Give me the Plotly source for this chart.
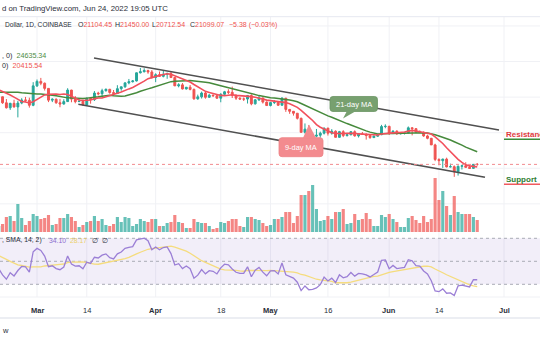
import plotly.graph_objects as go
import pandas as pd
import numpy as np

W, H = 540, 340

# ---- data -----------------------------------------------------------
# closes before the visible window (Jan 1 - Feb 18, 2022), used only to warm up indicators
warmup_close = [47690, 47290, 46430, 45830, 43430, 43090, 41550, 41730, 41870, 41830,
                42740, 43920, 42590, 43100, 43180, 43110, 42250, 42380, 41680, 40700,
                36470, 35080, 36280, 36680, 36960, 36830, 37190, 37720, 38150, 37920,
                38480, 38740, 36950, 37080, 41570, 41380, 42410, 43840, 44080, 44370,
                43530, 42380, 42230, 42080, 42550, 44570, 43880, 40540, 39980]

dates = pd.date_range("2022-02-19", "2022-06-24")

opens = [40000, 40100, 38400, 37000, 38250, 37250, 38330, 39200, 39100, 37700,
         43160, 44420, 43900, 42450, 39150, 39400, 38420, 38060, 38740, 41980,
         39440, 38730, 38820, 37800, 39670, 39280, 41140, 40950, 41800, 42200,
         41280, 41000, 42370, 42900, 44000, 44330, 44540, 46830, 47130, 47450, 47070,
         45530, 46300, 45830, 46420, 46600, 45500, 43170, 43440, 42290, 42780,
         42170, 39520, 40080, 41150, 39950, 40550, 40400, 39700, 40800, 41500,
         41360, 40480, 39700, 39450, 39450, 40430, 38110, 39240, 39740, 38600,
         37630, 38470, 38520, 37720, 39690, 36550, 36010, 35470, 34040, 30100,
         31000, 28940, 29030, 29280, 29860, 31300, 29860, 30420, 28700, 30290,
         29180, 29430, 30280, 29100, 29650, 29540, 29200, 28620, 29020, 29450, 31720,
         31790, 29800, 30450, 29700, 29860, 29910, 31370, 31130, 30200, 30110,
         29090, 28420, 26570, 22490, 22140, 22580, 20390, 20450, 19000, 20560,
         20700, 20270, 19980, 21104.45]
highs = [40450, 40150, 39450, 38400, 39250, 38950, 39700, 40050, 39850, 44200,
         44950, 45400, 44100, 42500, 39650, 39650, 39500, 39400, 42500, 42050,
         40300, 39450, 39300, 39900, 39900, 41700, 41500, 42350, 42400, 42300,
         42000, 43350, 42900, 44200, 45100, 44800, 46900, 48200, 48100, 47700, 47600,
         46700, 47200, 47450, 46900, 47200, 45500, 43900, 43950, 42800, 43400,
         42400, 40700, 41550, 41500, 40850, 40700, 40600, 41100, 41750, 42200,
         42950, 40800, 39950, 39900, 40600, 40800, 39450, 40350, 39900, 38800,
         38650, 39150, 38650, 40000, 39800, 36650, 36100, 35500, 34250, 32600,
         32150, 30050, 31050, 30300, 31400, 31300, 31000, 30650, 30500, 30700,
         29600, 30450, 30650, 29800, 30200, 29850, 29350, 29200, 29550, 32200, 32350,
         31950, 30650, 30650, 29950, 30150, 31750, 31550, 31300, 30650, 30350,
         29450, 28550, 26900, 22800, 22700, 22980, 21300, 20800, 20800, 21000,
         21700, 20850, 21200, 21450.00]
lows = [39650, 38100, 36800, 36400, 37050, 34300, 38000, 38600, 37050, 37450,
        42850, 43350, 41850, 38600, 38600, 38100, 37150, 37900, 38650, 38550,
        38250, 38650, 37600, 37550, 38150, 38900, 40500, 40150, 41550, 40950,
        40500, 40900, 41800, 42600, 43600, 44100, 44400, 46650, 46950, 46550, 45200,
        44200, 45650, 45550, 45150, 45400, 43100, 42750, 42150, 42150, 41900,
        39250, 39250, 39600, 39550, 39800, 40050, 39550, 38550, 40550, 40850,
        39750, 39200, 39300, 38900, 38200, 37700, 37900, 38900, 38200, 37600,
        37400, 38050, 37500, 37650, 35850, 35300, 34800, 33700, 30050, 29750,
        27800, 26700, 28700, 28600, 29500, 29200, 29450, 28700, 28650, 28750,
        28950, 29250, 28900, 28650, 29350, 28050, 28300, 28550, 28850, 29300, 31250,
        29350, 29600, 29400, 29500, 29500, 29900, 29250, 29900, 30050, 28850,
        28150, 26550, 22000, 20850, 20100, 20250, 20250, 17600, 17950, 19650,
        20350, 19800, 19900, 20712.54]
closes = [40100, 38400, 37000, 38250, 37250, 38330, 39200, 39100, 37700, 43160,
          44420, 43900, 42450, 39150, 39400, 38420, 38060, 38740, 41980, 39440,
          38730, 38820, 37800, 39670, 39280, 41140, 40950, 41800, 42200, 41280,
          41000, 42370, 42900, 44000, 44330, 44540, 46830, 47130, 47450, 47070, 45530,
          46300, 45830, 46420, 46600, 45500, 43170, 43440, 42290, 42780, 42170,
          39520, 40080, 41150, 39950, 40550, 40400, 39700, 40800, 41500, 41360,
          40480, 39700, 39450, 39450, 40430, 38110, 39240, 39740, 38600, 37630,
          38470, 38520, 37720, 39690, 36550, 36010, 35470, 34040, 30100, 31000,
          28940, 29030, 29280, 29860, 31300, 29860, 30420, 28700, 30290, 29180,
          29430, 30280, 29100, 29650, 29540, 29200, 28620, 29020, 29450, 31720, 31790,
          29800, 30450, 29700, 29860, 29910, 31370, 31130, 30200, 30110, 29090,
          28420, 26570, 22490, 22140, 22580, 20390, 20450, 19000, 20560, 20700,
          20270, 19980, 21110, 21099.07]
volumes = [6, 8, 15, 16, 11, 28, 14, 7, 11, 18,
           16, 13, 14, 17, 7, 8, 14, 14, 18, 15, 11, 5, 7, 10, 11, 16, 11, 13, 7, 6,
           8, 15, 10, 15, 14, 6, 8, 13, 11, 10, 13,
           13, 6, 6, 9, 10, 17, 10, 9, 4, 4, 13, 10, 9, 9, 6, 3, 4, 10, 9, 11,
           13, 13, 6, 5, 15, 15, 13, 12, 9, 6,
           7, 13, 13, 15, 20, 20, 9, 16, 37, 37, 41, 47, 23, 11, 12, 16, 13, 20, 20, 23,
           8, 9, 18, 12, 13, 19, 13, 6, 6, 17, 15,
           18, 13, 10, 5, 5, 14, 16, 12, 9, 16, 10, 13, 54, 32, 41, 26, 17, 36, 20, 18,
           18, 18, 15, 12]

upper_dates = ["2022-03-15 21:20", "2022-06-29 16:30"]
upper_prices = [50990, 30760]
lower_dates = ["2022-03-11 19:00", "2022-06-26 00:45"]
lower_prices = [37980, 17470]

tick_dates = ["2022-03-01", "2022-03-14", "2022-04-01", "2022-04-18", "2022-05-01",
              "2022-05-16", "2022-06-01", "2022-06-14", "2022-07-01"]
tick_text = ["<b>Mar</b>", "14", "<b>Apr</b>", "18", "<b>May</b>", "16", "<b>Jun</b>", "14", "<b>Jul</b>"]
price_grid = [10000, 20000, 30000, 40000, 50000, 60000]
rsi_levels = [70, 50, 30]

assert len(dates) == len(opens) == len(highs) == len(lows) == len(closes) == len(volumes)

# ---- indicators -----------------------------------------------------
allc = pd.Series(warmup_close + closes)
ma9 = allc.rolling(9).mean().values[len(warmup_close):]
ma21 = allc.rolling(21).mean().values[len(warmup_close):]

def rsi_wilder(c, n=14):
    c = np.asarray(c, float)
    d = np.diff(c)
    up = np.where(d > 0, d, 0.0)
    dn = np.where(d < 0, -d, 0.0)
    out = np.full(len(c), np.nan)
    au, ad = up[:n].mean(), dn[:n].mean()
    out[n] = 100 - 100 / (1 + au / ad)
    for i in range(n, len(d)):
        au = (au * (n - 1) + up[i]) / n
        ad = (ad * (n - 1) + dn[i]) / n
        out[i + 1] = 100 - 100 / (1 + au / ad)
    return out

rsi_all = pd.Series(rsi_wilder(allc.values))
rsi_ma_all = rsi_all.rolling(14).mean()
rsi = rsi_all.values[len(warmup_close):]
rsi_ma = rsi_ma_all.values[len(warmup_close):]

# ---- pixel geometry helpers -------------------------------------------
def X(px): return px / W
def Y(py): return 1 - py / H
def price_at(py): return 30000 + (132.7 - py) * 281.0
def rsi_at(py): return 70 - (py - 238.3) / 1.15

UP, DN = "#26a69a", "#ef5350"
vol_colors = ["rgba(38,166,154,0.70)" if c >= o else "rgba(239,83,80,0.70)" for o, c in zip(opens, closes)]

fig = go.Figure()
fig.add_trace(go.Bar(x=dates, y=volumes, marker=dict(color=vol_colors, line=dict(width=0)),
                     yaxis="y", xaxis="x", hoverinfo="skip"))
fig.add_trace(go.Scatter(x=dates, y=ma21, mode="lines", line=dict(color="#468a3c", width=1.5), yaxis="y2"))
fig.add_trace(go.Scatter(x=dates, y=ma9, mode="lines", line=dict(color="#f2505c", width=1.6), yaxis="y2"))
fig.add_trace(go.Candlestick(x=dates, open=opens, high=highs, low=lows, close=closes, yaxis="y2",
                             increasing=dict(line=dict(color=UP, width=1), fillcolor=UP),
                             decreasing=dict(line=dict(color=DN, width=1), fillcolor=DN),
                             whiskerwidth=0))
fig.add_trace(go.Scatter(x=upper_dates, y=upper_prices, mode="lines", line=dict(color="#505050", width=1.6), yaxis="y2"))
fig.add_trace(go.Scatter(x=lower_dates, y=lower_prices, mode="lines", line=dict(color="#505050", width=1.6), yaxis="y2"))
fig.add_trace(go.Scatter(x=dates, y=rsi_ma, mode="lines", line=dict(color="#f5dc7e", width=1.3), yaxis="y3"))
fig.add_trace(go.Scatter(x=dates, y=rsi, mode="lines", line=dict(color="#9b7fd6", width=1.3), yaxis="y3"))

shapes = []
for d in tick_dates:
    shapes.append(dict(type="line", xref="x", yref="paper", x0=d, x1=d, y0=Y(297), y1=Y(16.7),
                       line=dict(color="#f0f1f5", width=1), layer="below"))
for p in price_grid:
    shapes.append(dict(type="line", xref="paper", yref="y2", x0=0, x1=1, y0=p, y1=p,
                       line=dict(color="#f0f1f5", width=1), layer="below"))
shapes.append(dict(type="line", xref="paper", yref="paper", x0=0, x1=1, y0=Y(16.7), y1=Y(16.7),
                   line=dict(color="#e6e8f0", width=1), layer="below"))
shapes.append(dict(type="line", xref="paper", yref="paper", x0=0, x1=1, y0=Y(297), y1=Y(297),
                   line=dict(color="#f0f1f5", width=1), layer="below"))
shapes.append(dict(type="rect", xref="paper", yref="y3", x0=0, x1=1, y0=30, y1=70,
                   fillcolor="rgba(126,87,194,0.10)", line=dict(width=0), layer="below"))
for lv in rsi_levels:
    shapes.append(dict(type="line", xref="paper", yref="y3", x0=0, x1=1, y0=lv, y1=lv,
                       line=dict(color="#a9acb6", width=1, dash="3px,3px"), layer="below"))
shapes.append(dict(type="rect", xref="paper", yref="paper", x0=0, x1=1, y0=Y(319), y1=Y(317),
                   fillcolor="#eceef3", line=dict(width=0)))
shapes.append(dict(type="line", xref="paper", yref="y2", x0=0, x1=1, y0=closes[-1], y1=closes[-1],
                   line=dict(color="#f28a8f", width=1, dash="dot")))
shapes.append(dict(type="line", xref="paper", yref="paper", x0=X(504), x1=1, y0=Y(139.3), y1=Y(139.3),
                   line=dict(color="#3b8a3a", width=1.6)))
shapes.append(dict(type="line", xref="paper", yref="paper", x0=X(504), x1=1, y0=Y(184.3), y1=Y(184.3),
                   line=dict(color="#f05a5f", width=1.6)))

def rrect(x0, y0, x1, y1, r):
    p = lambda x, y: f"{X(x):.5f},{Y(y):.5f}"
    return (f"M {p(x0 + r, y0)} L {p(x1 - r, y0)} Q {p(x1, y0)} {p(x1, y0 + r)} "
            f"L {p(x1, y1 - r)} Q {p(x1, y1)} {p(x1 - r, y1)} L {p(x0 + r, y1)} "
            f"Q {p(x0, y1)} {p(x0, y1 - r)} L {p(x0, y0 + r)} Q {p(x0, y0)} {p(x0 + r, y0)} Z")

def tri(a, b, c):
    p = lambda x, y: f"{X(x):.5f},{Y(y):.5f}"
    return f"M {p(*a)} L {p(*b)} L {p(*c)} Z"

GREEN_BOX, RED_BOX = "#77a06f", "#f38b8f"
shapes.append(dict(type="path", xref="paper", yref="paper", path=rrect(330, 96.5, 377.5, 111.5, 3),
                   fillcolor=GREEN_BOX, line=dict(color="#6a9462", width=0.8)))
shapes.append(dict(type="path", xref="paper", yref="paper", path=tri((347, 111), (343, 118.5), (356, 111)),
                   fillcolor=GREEN_BOX, line=dict(width=0)))
shapes.append(dict(type="path", xref="paper", yref="paper", path=rrect(279, 137.7, 323, 156.7, 3),
                   fillcolor=RED_BOX, line=dict(color="#ee8185", width=0.8)))
shapes.append(dict(type="path", xref="paper", yref="paper", path=tri((303, 138), (309, 124.5), (316, 138)),
                   fillcolor=RED_BOX, line=dict(width=0)))

FONT = "Liberation Sans"
DARK = "#2a2e39"
RED = "#ef5350"
ann = []
def txt(x, y, s, size=7.0, color=DARK, anchor="left"):
    ann.append(dict(xref="paper", yref="paper", x=X(x), y=Y(y), text=s, showarrow=False,
                    xanchor=anchor, yanchor="middle", font=dict(family=FONT, size=size, color=color)))

def red(s): return f"<span style='color:{RED}'>{s}</span>"

txt(0, 8.3, "d on TradingView.com, Jun 24, 2022 19:05 UTC", 7.8)
txt(3, 25, "Dollar, 1D, COINBASE", 6.6)
txt(75.5, 25, "O" + red("21104.45"))
txt(112.5, 25, "H" + red("21450.00"))
txt(149.5, 25, "L" + red("20712.54"))
txt(188, 25, "C" + red("21099.07"))
txt(226.5, 25, red("−5.38 (−0.03%)"))
txt(0, 55.5, ", 0)  <span style='color:#4e8c45'>24635.34</span>", 7.2)
txt(0, 65.5, "0)  " + red("20415.54"), 7.2)
txt(0, 240.3, ", SMA, 14, 2)", 6.8)
txt(46.5, 240.3, "34.10", 6.8, "#8c6fd0")
txt(67.5, 240.3, "28.17", 6.8, "#ecd06a")
txt(89.5, 240.3, "∅  ∅", 6.8)
txt(0, 330, "w", 7.5)
txt(353.7, 104, "21-day MA", 7.5, "#ffffff", "center")
txt(301, 147.2, "9-day MA", 7.4, "#ffffff", "center")
txt(504, 134.5, "<b>Resistance</b>", 8, "#e0393e")
txt(504, 179.5, "<b>Support</b>", 8, "#2e7d32")
for d, t in zip(tick_dates, tick_text):
    ann.append(dict(xref="x", yref="paper", x=d, y=Y(310), text=t, showarrow=False,
                    xanchor="center", yanchor="middle", font=dict(family=FONT, size=7.5, color=DARK)))

fig.update_layout(
    width=W, height=H, margin=dict(l=0, r=0, t=0, b=0), paper_bgcolor="white", plot_bgcolor="rgba(0,0,0,0)",
    showlegend=False, bargap=0.18,
    xaxis=dict(range=["2022-02-19 08:00", "2022-07-10 09:36"], visible=False, domain=[0, 1],
               rangeslider=dict(visible=False), fixedrange=True),
    yaxis=dict(domain=[Y(239), Y(17)], range=[-7, 215], visible=False),
    yaxis2=dict(overlaying="y", range=[price_at(239), price_at(17)], visible=False),
    yaxis3=dict(domain=[Y(297), Y(236)], range=[rsi_at(297), rsi_at(236)], visible=False),
    shapes=shapes, annotations=ann,
)
fig.write_html("out.html")
